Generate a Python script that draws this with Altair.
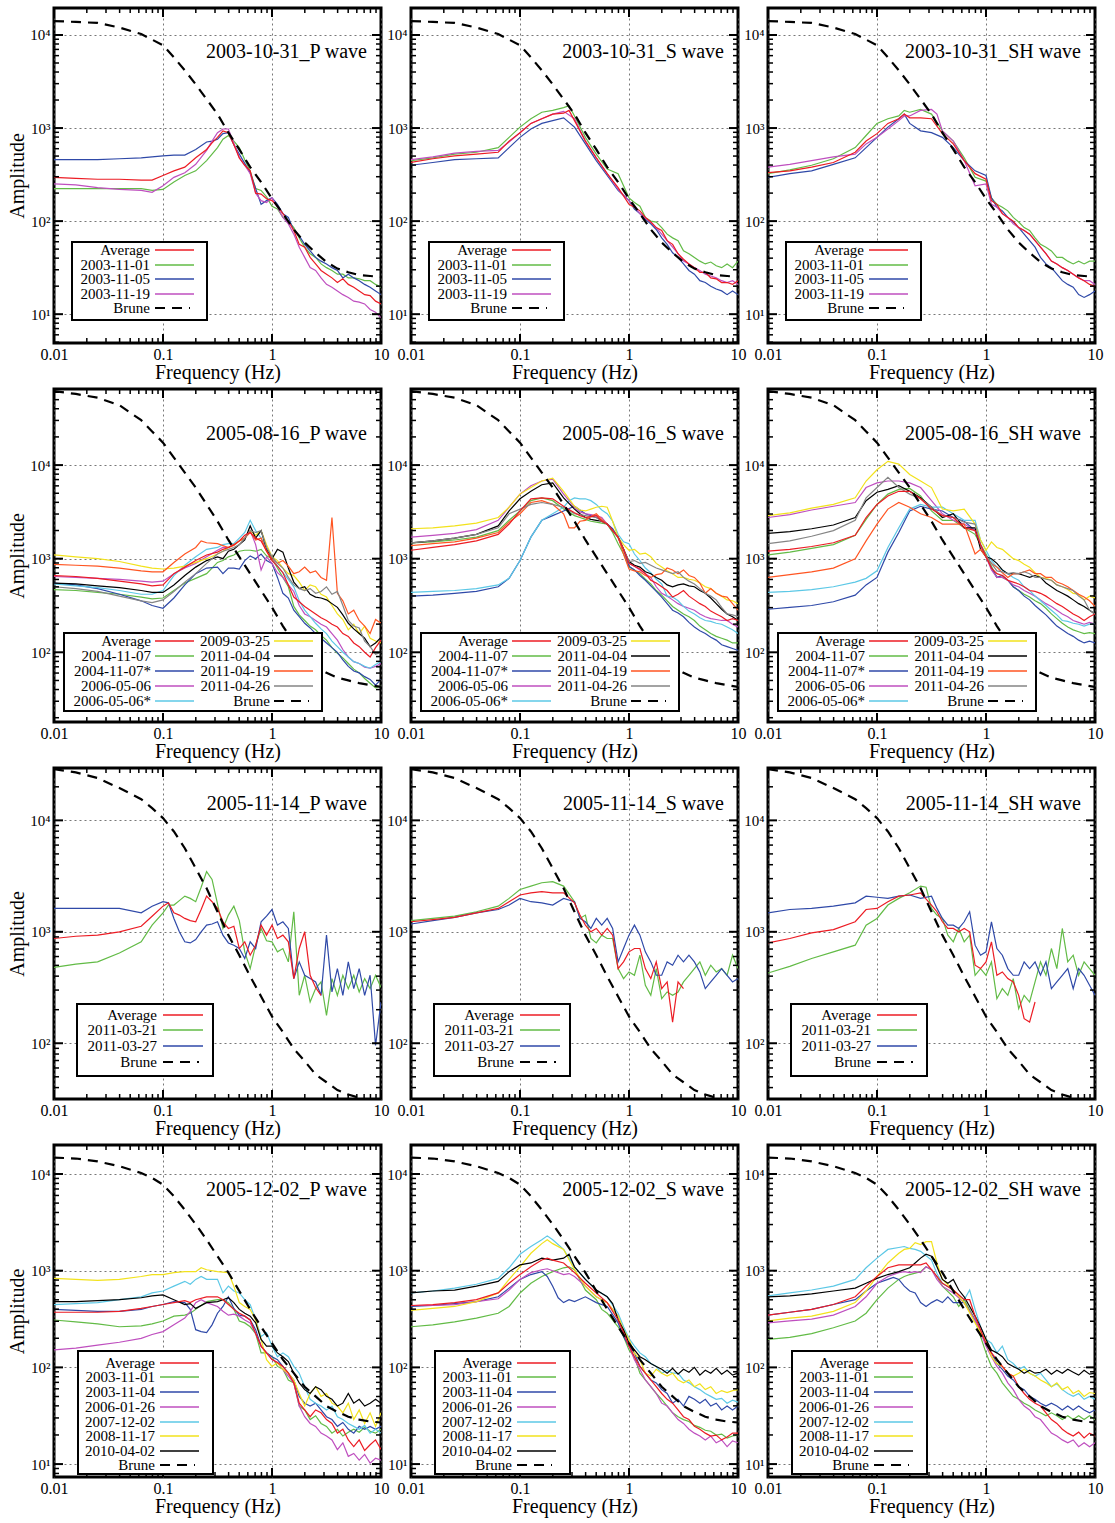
import altair as alt
import pandas as pd

_ = None
FONT = "Liberation Serif"

# log10 of frequency (Hz) at which the spectra were read
LOGF = [-2.0, -1.8, -1.6, -1.4, -1.2, -1.1,
        -1.0, -0.95, -0.9, -0.85, -0.8, -0.75, -0.7, -0.65, -0.6, -0.55,
        -0.5, -0.45, -0.4, -0.35, -0.3, -0.25, -0.2, -0.15, -0.1, -0.05,
        0.0, 0.05, 0.1, 0.15, 0.2, 0.25, 0.3, 0.35, 0.4, 0.45,
        0.5, 0.55, 0.6, 0.65, 0.7, 0.75, 0.8, 0.85, 0.9, 0.95, 1.0]

# ---------------- values: log10 amplitude ----------------
# Event 2003-10-31
brune1 = [4.15, 4.14, 4.13, 4.08, 4.01, 3.95] + [3.89, _, 3.76, _, 3.62, _, 3.47, _, 3.31, _,
          3.15, _, 2.95, _, 2.77, _, 2.58, _, 2.42, _] + [2.24, _, 2.08, _, 1.91, _, 1.77, _, 1.66, _,
          1.56, _, 1.49, _, 1.45, _, 1.42, _, 1.41, _, 1.40]
p1_avg = [2.47, 2.46, 2.45, 2.45, 2.44, 2.44] + [2.49, _, 2.54, _, 2.58, _, 2.68, _, 2.77, 2.84,
          2.90, 2.97, 2.95, 2.82, 2.68, 2.60, 2.54, 2.30, 2.29, 2.24] + [2.22, 2.16, 2.08, 2.00, 1.90, 1.75, 1.72, 1.61, 1.54, 1.47,
          1.43, 1.39, 1.34, 1.38, 1.32, 1.29, 1.25, 1.21, 1.20, 1.14, 1.11]
p1_g = [2.35, 2.35, 2.35, 2.35, 2.35, 2.33] + [2.34, _, 2.42, _, 2.49, _, 2.54, _, 2.65, 2.72,
        2.79, 2.88, 2.92, 2.86, 2.79, 2.66, 2.54, 2.35, 2.33, 2.26] + [2.16, 2.13, 2.04, 2.00, 1.93, 1.82, 1.72, 1.65, 1.61, 1.54,
        1.50, 1.47, 1.43, 1.43, 1.39, 1.39, 1.38, 1.36, 1.36, 1.32, 1.29]
p1_b = [2.66, 2.66, 2.66, 2.67, 2.68, 2.69] + [2.70, _, 2.71, _, 2.71, _, 2.77, _, 2.85, 2.86,
        2.88, 2.94, 2.95, 2.82, 2.72, 2.62, 2.52, 2.35, 2.18, 2.22] + [2.25, 2.18, 2.08, 2.04, 1.90, 1.84, 1.75, 1.68, 1.61, 1.57,
        1.54, 1.50, 1.47, 1.39, 1.43, 1.39, 1.36, 1.32, 1.29, 1.25, 1.21]
p1_m = [2.40, 2.39, 2.36, 2.34, 2.33, 2.31] + [2.38, _, 2.47, _, 2.52, _, 2.61, _, 2.76, 2.86,
        2.95, 2.99, 2.99, 2.84, 2.68, 2.60, 2.51, 2.30, 2.22, 2.20] + [2.25, 2.15, 2.04, 1.97, 1.86, 1.72, 1.61, 1.50, 1.47, 1.39,
        1.32, 1.29, 1.25, 1.21, 1.18, 1.14, 1.13, 1.11, 1.05, 1.02, 0.96]

p2_avg = [2.63, 2.67, 2.70, 2.72, 2.74, 2.86] + [2.95, _, 3.05, _, 3.10, _, 3.15, _, 3.16, 3.19,
          3.08, _, 2.86, _, 2.68, _, 2.51, _, 2.36, _] + [2.18, 2.15, 2.11, 2.04, 1.99, 1.93, 1.90, 1.79, 1.75, 1.65,
          1.59, 1.54, 1.50, 1.45, 1.45, 1.39, 1.38, 1.34, 1.34, 1.32, 1.36]
p2_g = [2.65, 2.68, 2.72, 2.74, 2.79, 2.90] + [3.01, _, 3.10, _, 3.17, _, 3.19, _, 3.22, 3.24,
        3.13, _, 2.90, _, 2.72, _, 2.56, _, 2.51, _] + [2.25, 2.20, 2.16, 2.04, 2.00, 1.99, 1.93, 1.86, 1.82, 1.79,
        1.68, 1.65, 1.61, 1.57, 1.54, 1.56, 1.52, 1.50, 1.54, 1.50, 1.57]
p2_b = [2.60, 2.63, 2.66, 2.67, 2.68, 2.79] + [2.90, _, 2.99, _, 3.05, _, 3.08, _, 3.11, _,
        3.01, _, 2.83, _, 2.65, _, 2.49, _, 2.33, _] + [2.22, 2.13, 2.08, 2.02, 1.97, 1.91, 1.82, 1.75, 1.66, 1.61,
        1.54, 1.47, 1.43, 1.36, 1.34, 1.30, 1.27, 1.25, 1.21, 1.25, 1.21]
p2_m = [2.66, 2.69, 2.73, 2.75, 2.76, 2.85] + [2.95, _, 3.05, _, 3.10, _, 3.15, _, 3.18, _,
        3.10, _, 2.86, _, 2.68, _, 2.51, _, 2.34, _] + [2.22, 2.15, 2.08, 2.03, 1.99, 1.93, 1.86, 1.79, 1.72, 1.65,
        1.57, 1.54, 1.50, 1.47, 1.43, 1.41, 1.39, 1.36, 1.34, 1.36, 1.32]

p3_avg = [2.52, 2.54, 2.58, 2.63, 2.74, 2.86] + [2.94, _, 3.05, _, 3.10, 3.15, 3.11, _, 3.11, _,
          3.10, _, 2.94, _, 2.83, _, 2.65, _, 2.51, _] + [2.45, 2.22, 2.18, 2.08, 2.04, 2.00, 1.93, 1.90, 1.86, 1.79,
          1.72, 1.65, 1.57, 1.54, 1.50, 1.47, 1.43, 1.39, 1.36, 1.32, 1.30]
p3_g = [2.51, 2.55, 2.60, 2.67, 2.79, 2.92] + [3.05, _, 3.10, _, 3.13, 3.19, 3.17, _, 3.20, _,
        3.15, _, 2.97, _, 2.86, _, 2.68, _, 2.47, _] + [2.43, 2.25, 2.18, 2.15, 2.11, 2.04, 1.99, 1.93, 1.90, 1.82,
        1.75, 1.72, 1.68, 1.61, 1.61, 1.57, 1.54, 1.57, 1.54, 1.57, 1.57]
p3_b = [2.47, 2.51, 2.54, 2.61, 2.68, 2.79] + [2.90, _, 3.01, _, 3.10, 3.15, 3.05, _, 2.97, _,
        2.95, _, 2.90, _, 2.79, _, 2.65, _, 2.54, _] + [2.49, 2.25, 2.15, 2.11, 2.04, 1.99, 1.93, 1.86, 1.79, 1.72,
        1.61, 1.54, 1.50, 1.43, 1.36, 1.32, 1.29, 1.21, 1.18, 1.21, 1.25]
p3_m = [2.58, 2.61, 2.65, 2.69, 2.72, 2.83] + [2.90, _, 2.99, _, 3.08, 3.13, 3.13, _, 3.19, _,
        3.20, 3.15, 2.97, _, 2.86, _, 2.65, _, 2.38, _] + [2.40, 2.18, 2.15, 2.08, 2.04, 1.97, 1.93, 1.90, 1.86, 1.79,
        1.72, 1.65, 1.57, 1.54, 1.50, 1.47, 1.43, 1.39, 1.36, 1.36, 1.32]

# Event 2005-08-16
brune2 = [4.79, 4.76, 4.72, 4.64, 4.48, 4.36] + [4.24, _, 4.08, _, 3.92, _, 3.76, _, 3.58, _,
          3.40, _, 3.20, _, 3.02, _, 2.84, _, 2.66, _] + [2.48, _, 2.28, _, 2.10, _, 1.95, _, 1.85, _,
          1.78, _, 1.73, _, 1.70, _, 1.67, _, 1.65, _, 1.63]
p4_avg = [2.82, 2.81, 2.79, 2.76, 2.73, 2.71] + [2.72, _, 2.84, _, 2.91, _, 2.98, _, 3.04, _,
          3.07, 3.10, 3.12, 3.15, 3.19, 3.25, 3.28, 3.22, 3.19, 3.08] + [2.98, 2.92, 2.85, 2.72, 2.59, 2.54, 2.49, 2.45, 2.41, 2.37,
          2.34, 2.30, 2.27, 2.20, 2.17, 2.10, 2.06, 2.00, 1.95, 2.05, 2.13]
p4_g = [2.67, 2.66, 2.64, 2.62, 2.59, 2.57] + [2.58, _, 2.66, _, 2.74, _, 2.79, _, 2.84, _,
        2.96, 2.98, 3.02, 3.04, 3.08, 3.09, 3.09, 3.08, 3.10, 3.03] + [3.00, 2.90, 2.80, 2.70, 2.49, 2.40, 2.34, 2.28, 2.24, 2.18,
        2.13, 2.05, 1.99, 1.94, 1.88, 1.82, 1.78, 1.72, 1.67, 1.62, 1.64]
p4_b = [2.74, 2.72, 2.68, 2.62, 2.55, 2.50] + [2.47, _, 2.58, _, 2.72, _, 2.84, _, 2.90, _,
        2.91, 2.84, 2.90, 2.90, 2.89, 2.98, 3.03, 3.00, 3.05, 2.98] + [2.95, 2.80, 2.63, 2.58, 2.45, 2.38, 2.31, 2.26, 2.20, 2.15,
        2.10, 2.05, 2.00, 1.92, 1.85, 1.80, 1.78, 1.74, 1.71, 1.65, 1.71]
p4_m = [2.81, 2.80, 2.79, 2.78, 2.76, 2.75] + [2.76, _, 2.84, _, 2.90, _, 2.95, _, 3.02, _,
        3.09, 3.12, 3.12, 3.15, 3.19, 3.22, 3.30, 3.15, 2.88, 3.02] + [2.95, 2.85, 2.80, 2.72, 2.65, 2.50, 2.41, 2.38, 2.34, 2.30,
        2.27, 2.20, 2.13, 2.03, 1.95, 1.90, 1.88, 1.84, 1.83, 1.85, 1.88]
p4_c = [2.73, 2.71, 2.69, 2.66, 2.62, 2.62] + [2.66, _, 2.82, _, 2.93, _, 3.02, _, 3.10, _,
        3.12, 3.15, 3.16, 3.16, 3.22, 3.28, 3.41, 3.30, 3.22, 3.12] + [3.00, 2.92, 2.85, 2.78, 2.70, 2.55, 2.45, 2.38, 2.31, 2.25,
        2.20, 2.12, 2.06, 2.00, 1.95, 1.90, 1.88, 1.85, 1.83, 1.87, 1.90]
p4_y = [3.04, 3.02, 3.00, 2.97, 2.92, 2.90] + [2.89, _, 2.90, _, 2.92, _, 2.96, _, 3.00, _,
        3.05, 3.08, 3.12, 3.15, 3.19, 3.22, 3.30, 3.25, 3.30, 3.15] + [3.02, 2.98, 2.90, 2.84, 2.82, 2.75, 2.66, 2.72, 2.70, 2.62,
        2.59, 2.50, 2.41, 2.35, 2.24, 2.30, 2.20, 2.28, 2.15, 2.12, 2.10]
p4_k = [2.74, 2.73, 2.71, 2.69, 2.66, 2.64] + [2.64, _, 2.72, _, 2.82, _, 2.91, _, 2.98, _,
        3.02, 3.00, 3.08, 3.10, 3.15, 3.20, 3.35, 3.22, 3.30, 3.10] + [3.00, 3.10, 3.07, 2.90, 2.75, 2.68, 2.70, 2.62, 2.59, 2.58,
        2.56, 2.52, 2.48, 2.40, 2.31, 2.25, 2.20, 2.15, 2.06, 2.10, 2.16]
p4_o = [2.94, 2.93, 2.92, 2.90, 2.87, 2.86] + [2.86, _, 2.96, _, 3.05, _, 3.12, 3.19, 3.17, _,
        3.16, 3.14, 3.12, 3.14, 3.19, 3.22, 3.28, 3.20, 3.22, 3.08] + [3.00, 2.95, 2.98, 2.92, 2.84, 2.86, 2.91, 2.85, 2.87, 2.80,
        2.77, 3.44, 2.63, 2.55, 2.41, 2.45, 2.34, 2.28, 2.20, 2.35, 2.31]
p4_gr = [2.70, 2.68, 2.65, 2.60, 2.55, 2.53] + [2.56, _, 2.65, _, 2.75, _, 2.84, _, 2.95, _,
         3.05, 3.08, 3.10, 3.12, 3.15, 3.22, 3.30, 3.28, 3.30, 3.12] + [3.02, 2.95, 2.90, 2.80, 2.72, 2.68, 2.66, 2.68, 2.63, 2.65,
         2.70, 2.62, 2.65, 2.50, 2.34, 2.28, 2.26, 2.12, 2.06, 1.98, 2.00]

p5_avg = [3.09, 3.12, 3.15, 3.19, 3.26, 3.37] + [3.51, _, 3.64, _, 3.65, _, 3.64, _, 3.56, _,
          3.49, 3.46, 3.44, 3.45, 3.46, 3.40, 3.37, 3.30, 3.23, 3.10] + [2.95, 2.92, 2.89, 2.84, 2.77, 2.74, 2.70, 2.66, 2.59, 2.62,
          2.66, 2.60, 2.56, 2.52, 2.49, 2.44, 2.41, 2.38, 2.34, 2.36, 2.34]
p5_g = [3.17, 3.18, 3.20, 3.23, 3.30, 3.41] + [3.51, _, 3.62, _, 3.65, _, 3.62, _, 3.53, _,
        3.46, 3.44, 3.42, 3.40, 3.39, 3.38, 3.37, 3.28, 3.16, 3.05] + [2.91, 2.88, 2.84, 2.78, 2.73, 2.66, 2.61, 2.55, 2.49, 2.45,
        2.41, 2.38, 2.34, 2.28, 2.24, 2.20, 2.17, 2.15, 2.13, 2.10, 2.10]
p5_b = [2.60, 2.61, 2.63, 2.65, 2.70, 2.79] + [2.98, _, 3.23, _, 3.41, _, 3.46, _, 3.51, _,
        3.56, 3.52, 3.48, 3.46, 3.44, 3.41, 3.37, 3.32, 3.23, 3.10] + [2.92, 2.88, 2.82, 2.77, 2.71, 2.65, 2.59, 2.52, 2.45, 2.42,
        2.38, 2.32, 2.27, 2.23, 2.20, 2.16, 2.13, 2.08, 2.06, 2.04, 2.02]
p5_m = [3.23, 3.25, 3.27, 3.31, 3.41, 3.55] + [3.69, _, 3.78, _, 3.83, _, 3.85, _, 3.69, _,
        3.55, 3.50, 3.48, 3.47, 3.46, 3.44, 3.37, 3.30, 3.23, 3.10] + [2.95, 2.92, 2.88, 2.84, 2.80, 2.70, 2.63, 2.60, 2.56, 2.52,
        2.49, 2.47, 2.45, 2.41, 2.38, 2.36, 2.35, 2.34, 2.34, 2.30, 2.27]
p5_c = [2.64, 2.65, 2.66, 2.68, 2.72, 2.79] + [2.98, _, 3.23, _, 3.41, _, 3.48, _, 3.55, 3.62,
        3.65, 3.64, 3.64, 3.62, 3.58, 3.52, 3.48, 3.40, 3.26, 3.18] + [3.16, 3.05, 2.98, 2.90, 2.85, 2.78, 2.73, 2.60, 2.59, 2.55,
        2.49, 2.44, 2.41, 2.37, 2.34, 2.33, 2.31, 2.30, 2.27, 2.24, 2.20]
p5_y = [3.32, 3.33, 3.35, 3.38, 3.44, 3.55] + [3.69, _, 3.76, _, 3.83, _, 3.86, _, 3.72, _,
        3.56, 3.52, 3.51, 3.53, 3.55, 3.56, 3.55, 3.40, 3.23, 3.15] + [3.09, 3.10, 3.05, 3.06, 3.02, 2.95, 2.91, 2.87, 2.84, 2.80,
        2.80, 2.78, 2.77, 2.74, 2.70, 2.68, 2.63, 2.60, 2.56, 2.55, 2.52]
p5_k = [3.17, 3.19, 3.22, 3.26, 3.35, 3.51] + [3.64, _, 3.72, _, 3.79, _, 3.81, _, 3.65, _,
        3.53, 3.48, 3.44, 3.42, 3.41, 3.40, 3.37, 3.30, 3.23, 3.10] + [2.97, 2.93, 2.91, 2.86, 2.84, 2.80, 2.77, 2.72, 2.70, 2.72,
        2.73, 2.71, 2.70, 2.66, 2.63, 2.58, 2.52, 2.46, 2.41, 2.38, 2.34]
p5_o = [3.14, 3.16, 3.18, 3.22, 3.28, 3.39] + [3.48, _, 3.60, _, 3.62, _, 3.58, _, 3.48, 3.33,
        3.33, 3.40, 3.41, 3.45, 3.48, 3.42, 3.37, 3.30, 3.23, 3.05] + [2.89, 2.87, 2.86, 2.82, 2.80, 2.83, 2.84, 2.90, 2.88, 2.84,
        2.88, 2.82, 2.80, 2.74, 2.63, 2.68, 2.63, 2.60, 2.59, 2.52, 2.45]
p5_gr = [3.17, 3.19, 3.22, 3.26, 3.33, 3.48] + [3.53, _, 3.58, _, 3.60, _, 3.58, _, 3.55, _,
         3.48, 3.47, 3.46, 3.45, 3.44, 3.40, 3.37, 3.30, 3.23, 3.10] + [2.97, 2.98, 2.95, 2.96, 2.93, 2.90, 2.88, 2.86, 2.84, 2.86,
         2.80, 2.76, 2.73, 2.68, 2.63, 2.60, 2.56, 2.48, 2.41, 2.40, 2.38]

p6_avg = [3.08, 3.10, 3.13, 3.17, 3.25, 3.44] + [3.58, _, 3.67, _, 3.72, _, 3.72, _, 3.64, _,
          3.53, _, 3.46, _, 3.44, _, 3.33, _, 3.30, 3.15] + [3.02, 2.90, 2.84, 2.82, 2.77, 2.75, 2.73, 2.70, 2.66, 2.65,
          2.63, 2.60, 2.56, 2.52, 2.49, 2.45, 2.41, 2.38, 2.34, 2.38, 2.41]
p6_g = [3.04, 3.07, 3.11, 3.15, 3.25, 3.42] + [3.58, _, 3.69, _, 3.74, _, 3.75, _, 3.67, _,
        3.51, _, 3.41, _, 3.41, _, 3.33, _, 3.26, 3.15] + [3.05, 2.92, 2.80, 2.80, 2.77, 2.70, 2.66, 2.62, 2.59, 2.55,
        2.52, 2.47, 2.41, 2.36, 2.31, 2.27, 2.24, 2.22, 2.20, 2.21, 2.20]
p6_b = [2.46, 2.48, 2.50, 2.54, 2.61, 2.72] + [2.80, _, 3.07, _, 3.28, _, 3.51, _, 3.56, _,
        3.53, _, 3.51, _, 3.44, _, 3.40, _, 3.30, 3.15] + [3.02, 2.90, 2.80, 2.82, 2.77, 2.70, 2.66, 2.60, 2.56, 2.50,
        2.45, 2.40, 2.34, 2.28, 2.24, 2.20, 2.17, 2.13, 2.10, 2.12, 2.10]
p6_m = [3.44, 3.47, 3.52, 3.56, 3.60, 3.76] + [3.81, _, 3.83, _, 3.83, _, 3.81, _, 3.76, _,
        3.62, _, 3.48, _, 3.41, _, 3.37, _, 3.30, 3.15] + [3.02, 2.88, 2.80, 2.80, 2.77, 2.72, 2.70, 2.66, 2.63, 2.60,
        2.56, 2.52, 2.49, 2.45, 2.41, 2.38, 2.34, 2.32, 2.30, 2.32, 2.30]
p6_c = [2.64, 2.65, 2.67, 2.70, 2.75, 2.79] + [2.87, _, 3.12, _, 3.33, _, 3.53, _, 3.58, _,
        3.55, _, 3.55, _, 3.48, _, 3.41, _, 3.41, 3.20] + [3.09, 2.98, 2.91, 2.88, 2.84, 2.80, 2.77, 2.70, 2.66, 2.60,
        2.55, 2.50, 2.45, 2.40, 2.34, 2.33, 2.31, 2.30, 2.28, 2.30, 2.30]
p6_y = [3.46, 3.49, 3.54, 3.58, 3.65, 3.83] + [3.95, _, 4.04, _, 4.01, _, 3.90, _, 3.83, _,
        3.76, _, 3.53, _, 3.51, _, 3.53, _, 3.37, 3.20] + [3.09, 3.18, 3.12, 3.10, 3.05, 3.00, 2.98, 2.94, 2.91, 2.85,
        2.80, 2.79, 2.77, 2.72, 2.70, 2.67, 2.63, 2.62, 2.56, 2.60, 2.58]
p6_k = [3.27, 3.29, 3.32, 3.36, 3.44, 3.62] + [3.71, _, 3.74, _, 3.78, _, 3.72, _, 3.65, _,
        3.55, _, 3.44, _, 3.48, _, 3.33, _, 3.33, 3.10] + [3.02, 3.00, 2.95, 2.88, 2.84, 2.84, 2.84, 2.82, 2.80, 2.82,
        2.80, 2.74, 2.70, 2.66, 2.63, 2.60, 2.56, 2.52, 2.49, 2.45, 2.41]
p6_o = [2.80, 2.83, 2.86, 2.90, 3.00, 3.19] + [3.37, _, 3.53, _, 3.60, _, 3.55, _, 3.48, _,
        3.44, _, 3.37, _, 3.37, _, 3.37, _, 3.05, 3.10] + [3.02, 2.95, 2.91, 2.85, 2.80, 2.84, 2.84, 2.86, 2.88, 2.84,
        2.84, 2.80, 2.80, 2.75, 2.73, 2.70, 2.66, 2.62, 2.59, 2.55, 2.49]
p6_gr = [3.16, 3.19, 3.24, 3.30, 3.41, 3.65] + [3.76, _, 3.87, _, 3.76, _, 3.69, _, 3.64, _,
         3.55, _, 3.46, _, 3.44, _, 3.39, _, 3.37, 3.15] + [3.03, 2.95, 2.87, 2.86, 2.84, 2.85, 2.84, 2.86, 2.84, 2.80,
         2.80, 2.78, 2.77, 2.72, 2.70, 2.68, 2.66, 2.60, 2.56, 2.45, 2.41]

# Event 2005-11-14
brune3 = [4.46, 4.43, 4.38, 4.29, 4.19, 4.11] + [4.02, _, 3.90, _, 3.75, _, 3.57, _, 3.39, _,
          3.18, _, 2.97, _, 2.79, _, 2.60, _, 2.42, _] + [2.24, _, 2.10, _, 1.95, _, 1.84, _, 1.72, _,
          1.65, _, 1.58, _, 1.54, _, 1.51, _, 1.49, _, 1.48]
p7_avg = [2.94, 2.96, 2.97, 3.00, 3.05, 3.14] + [3.23, 3.26, 3.17, 3.15, 3.12, 3.10, 3.09, 3.20, 3.32, 3.27,
          3.21, 3.09, 3.03, 3.05, 2.85, 2.91, 2.79, 2.88, 3.06, 2.97] + [3.06, 2.94, 2.97, 2.91, 2.58, 2.85, 3.00, 2.61, 2.50, 2.43,
          _, _, _, _, _, _, _, _, _, _, _]
p7_g = [2.68, 2.71, 2.73, 2.81, 2.91, 3.06] + [3.17, 3.24, 3.24, 3.28, 3.32, 3.30, 3.27, 3.40, 3.54, 3.47,
        3.25, 3.03, 3.15, 3.23, 3.10, 2.82, 2.67, 2.88, 3.03, 2.92] + [2.91, 2.82, 2.85, 2.73, 3.18, 2.43, 2.61, 2.37, 2.49, 2.55,
        2.25, 2.58, 2.43, 2.61, 2.49, 2.61, 2.46, 2.58, 2.49, 2.61, 2.50]
p7_b = [3.21, 3.21, 3.21, 3.21, 3.17, 3.23] + [3.27, 3.26, 3.12, 3.00, 2.91, 2.90, 2.93, 3.00, 3.06, 3.07,
        3.09, 2.97, 2.90, 2.88, 2.85, 2.76, 2.91, 2.85, 3.09, 3.14] + [3.20, 3.06, 3.09, 3.03, 2.58, 2.73, 2.61, 2.58, 2.55, 2.43,
        2.97, 2.46, 2.67, 2.43, 2.73, 2.49, 2.67, 2.43, 2.61, 1.98, 2.37]

p8_avg = [3.09, 3.11, 3.13, 3.17, 3.21, 3.27] + [3.33, _, 3.35, _, 3.36, _, 3.35, _, 3.35, _,
          3.26, 3.15, 3.06, 3.00, 3.03, 2.97, 3.03, 2.97, 2.67, 2.73] + [2.82, 2.85, 2.85, 2.67, 2.58, 2.73, 2.49, 2.55, 2.19, 2.55,
          2.49, _, _, _, _, _, _, _, _, _, _]
p8_g = [3.10, 3.12, 3.14, 3.18, 3.23, 3.30] + [3.38, _, 3.41, _, 3.44, _, 3.45, _, 3.41, _,
        3.27, 3.12, 3.15, 2.94, 2.90, 2.97, 2.94, 2.94, 2.67, 2.58] + [2.64, 2.61, 2.79, 2.52, 2.43, 2.67, 2.40, 2.46, 2.43, 2.46,
        2.55, 2.61, 2.67, 2.73, 2.61, 2.70, 2.64, 2.67, 2.61, 2.79, 2.67]
p8_b = [3.07, 3.10, 3.13, 3.17, 3.20, 3.24] + [3.30, _, 3.27, _, 3.26, _, 3.24, _, 3.30, _,
        3.27, 3.12, 3.09, 3.03, 3.12, 3.06, 3.12, 3.03, 2.73, 2.85] + [2.97, 3.06, 2.97, 2.82, 2.73, 2.61, 2.61, 2.73, 2.70, 2.79,
        2.73, 2.79, 2.73, 2.64, 2.49, 2.55, 2.61, 2.67, 2.61, 2.55, 2.58]

p9_avg = [2.90, 2.94, 2.99, 3.02, 3.09, 3.20] + [3.21, _, 3.27, _, 3.32, _, 3.33, _, 3.35, _,
          3.24, 3.18, 3.09, 3.03, 3.03, 3.00, 3.03, 3.00, 2.70, 2.67] + [2.73, 2.91, 2.61, 2.64, 2.58, 2.55, 2.43, 2.22, 2.19, 2.37,
          _, _, _, _, _, _, _, _, _, _, _]
p9_g = [2.63, 2.69, 2.76, 2.82, 2.88, 3.06] + [3.12, _, 3.24, _, 3.30, _, 3.35, _, 3.41, 3.40,
        3.21, 3.15, 3.12, 2.97, 2.91, 3.03, 2.91, 2.97, 2.61, 2.67] + [2.61, 2.73, 2.40, 2.49, 2.43, 2.58, 2.31, 2.43, 2.37, 2.55,
        2.73, 2.61, 2.85, 2.67, 3.03, 2.73, 2.79, 2.61, 2.73, 2.67, 2.61]
p9_b = [3.17, 3.20, 3.21, 3.23, 3.26, 3.32] + [3.31, _, 3.30, _, 3.32, _, 3.33, _, 3.30, _,
        3.32, 3.21, 3.12, 3.06, 3.06, 3.03, 3.09, 3.18, 2.88, 2.79] + [2.82, 3.09, 2.85, 2.79, 2.67, 2.61, 2.61, 2.73, 2.67, 2.73,
        2.61, 2.73, 2.49, 2.55, 2.61, 2.67, 2.49, 2.67, 2.61, 2.52, 2.43]

# Event 2005-12-02
brune4 = [4.17, 4.16, 4.13, 4.08, 4.01, 3.96] + [3.89, _, 3.77, _, 3.63, _, 3.48, _, 3.32, _,
          3.15, _, 2.98, _, 2.79, _, 2.60, _, 2.42, _] + [2.25, _, 2.08, _, 1.94, _, 1.80, _, 1.70, _,
          1.60, _, 1.54, _, 1.49, _, 1.46, _, 1.44, _, 1.43]
p10_avg = [2.57, 2.57, 2.57, 2.58, 2.61, 2.63] + [2.65, _, 2.67, _, 2.69, 2.67, 2.70, _, 2.73, _,
           2.73, 2.70, 2.65, 2.60, 2.56, 2.53, 2.49, 2.35, 2.22, 2.15] + [2.08, 2.05, 2.01, 1.94, 1.84, 1.63, 1.56, 1.49, 1.56, 1.53,
           1.46, 1.42, 1.32, 1.36, 1.25, 1.18, 1.25, 1.14, 1.20, 1.25, 1.15]
p10_g = [2.49, 2.47, 2.45, 2.42, 2.43, 2.45] + [2.48, _, 2.53, _, 2.54, 2.56, 2.60, _, 2.68, _,
         2.70, 2.70, 2.67, 2.60, 2.48, 2.46, 2.42, 2.35, 2.15, 2.15] + [2.11, 2.01, 1.98, 1.87, 1.84, 1.60, 1.56, 1.46, 1.50, 1.42,
         1.39, 1.32, 1.36, 1.29, 1.33, 1.36, 1.33, 1.38, 1.34, 1.32, 1.36]
p10_b = [2.60, 2.59, 2.58, 2.58, 2.60, 2.63] + [2.65, _, 2.68, _, 2.67, 2.60, 2.39, 2.37, 2.36, 2.44,
         2.56, 2.63, 2.73, 2.61, 2.54, 2.53, 2.49, 2.39, 2.22, 2.15] + [2.11, 2.08, 2.01, 1.94, 1.87, 1.70, 1.63, 1.60, 1.63, 1.56,
         1.49, 1.46, 1.39, 1.43, 1.36, 1.32, 1.39, 1.36, 1.39, 1.36, 1.39]
p10_m = [2.18, 2.20, 2.23, 2.26, 2.30, 2.34] + [2.37, _, 2.44, _, 2.51, 2.58, 2.67, 2.70, 2.67, _,
         2.63, 2.58, 2.54, 2.55, 2.53, 2.49, 2.46, 2.35, 2.22, 2.15] + [2.08, 2.05, 1.98, 1.91, 1.84, 1.60, 1.49, 1.42, 1.39, 1.32,
         1.29, 1.25, 1.15, 1.22, 1.08, 1.11, 1.04, 1.10, 1.01, 1.06, 1.04]
p10_c = [2.65, 2.66, 2.67, 2.70, 2.73, 2.77] + [2.79, _, 2.84, _, 2.89, 2.86, 2.91, 2.94, 2.91, _,
         2.91, 2.77, 2.84, 2.79, 2.77, 2.70, 2.65, 2.49, 2.32, 2.36] + [2.22, 2.11, 2.15, 2.11, 2.01, 1.94, 1.80, 1.67, 1.63, 1.60,
         1.56, 1.60, 1.49, 1.46, 1.42, 1.39, 1.36, 1.40, 1.32, 1.36, 1.32]
p10_y = [2.92, 2.91, 2.90, 2.91, 2.94, 2.96] + [2.96, _, 2.98, _, 2.99, _, 2.99, 3.03, 3.01, _,
         2.99, _, 2.98, 2.84, 2.67, 2.63, 2.60, 2.49, 2.29, 2.08] + [2.01, 2.05, 1.98, 1.94, 1.87, 1.73, 1.60, 1.73, 1.80, 1.70,
         1.73, 1.63, 1.60, 1.53, 1.63, 1.46, 1.56, 1.42, 1.53, 1.39, 1.53]
p10_k = [2.68, 2.68, 2.69, 2.70, 2.72, 2.74] + [2.75, _, 2.70, _, 2.65, 2.66, 2.61, _, 2.67, _,
         2.68, 2.70, 2.72, 2.67, 2.60, 2.56, 2.53, 2.46, 2.29, 2.22] + [2.22, 2.15, 2.11, 2.06, 1.94, 1.84, 1.77, 1.73, 1.80, 1.77,
         1.70, 1.67, 1.60, 1.63, 1.73, 1.63, 1.67, 1.60, 1.63, 1.67, 1.63]

p11_avg = [2.64, 2.65, 2.67, 2.70, 2.77, 2.87] + [2.96, _, 3.04, _, 3.11, 3.13, 3.11, _, 3.08, _,
           2.98, _, 2.87, _, 2.77, _, 2.67, _, 2.49, 2.36] + [2.22, 2.11, 2.01, 1.94, 1.87, 1.80, 1.73, 1.67, 1.63, 1.56,
           1.49, 1.46, 1.39, 1.36, 1.32, 1.29, 1.30, 1.25, 1.28, 1.32, 1.32]
p11_g = [2.42, 2.44, 2.47, 2.51, 2.56, 2.63] + [2.77, _, 2.87, _, 2.94, _, 2.99, _, 3.03, 3.04,
         3.01, _, 2.80, _, 2.70, 2.60, 2.56, _, 2.42, 2.32] + [2.18, 2.11, 1.94, 1.87, 1.80, 1.73, 1.67, 1.60, 1.53, 1.49,
         1.46, 1.44, 1.40, 1.38, 1.35, 1.34, 1.30, 1.31, 1.27, 1.29, 1.30]
p11_b = [2.63, 2.64, 2.66, 2.68, 2.73, 2.82] + [2.91, _, 2.96, _, 2.99, 2.94, 2.84, 2.72, 2.67, 2.70,
         2.68, _, 2.73, _, 2.67, _, 2.63, _, 2.46, 2.32] + [2.22, 2.15, 2.01, 1.94, 1.87, 1.84, 1.77, 1.73, 1.63, 1.67,
         1.60, 1.70, 1.67, 1.63, 1.67, 1.60, 1.63, 1.56, 1.60, 1.56, 1.60]
p11_m = [2.64, 2.64, 2.65, 2.68, 2.71, 2.80] + [2.91, _, 2.98, _, 3.01, 3.02, 3.00, _, 2.96, 2.97,
         2.94, _, 2.84, _, 2.73, _, 2.67, _, 2.53, 2.36] + [2.22, 2.08, 1.98, 1.87, 1.80, 1.73, 1.63, 1.60, 1.53, 1.46,
         1.42, 1.36, 1.32, 1.29, 1.25, 1.29, 1.22, 1.25, 1.18, 1.24, 1.22]
p11_c = [2.77, 2.79, 2.82, 2.86, 2.92, 3.03] + [3.17, _, 3.25, _, 3.32, 3.36, 3.32, _, 3.22, _,
         3.04, _, 2.91, _, 2.80, _, 2.73, _, 2.56, 2.42] + [2.30, 2.22, 2.15, 2.11, 2.04, 2.01, 1.94, 1.97, 1.94, 1.94,
         1.87, 1.84, 1.80, 1.77, 1.73, 1.70, 1.67, 1.68, 1.63, 1.66, 1.64]
p11_y = [2.59, 2.61, 2.63, 2.68, 2.77, 2.91] + [3.04, _, 3.18, _, 3.28, 3.32, 3.28, _, 3.22, _,
         3.01, _, 2.84, _, 2.73, _, 2.67, _, 2.53, 2.39] + [2.29, 2.15, 2.08, 1.94, 1.91, 1.98, 1.94, 1.91, 1.94, 1.87,
         1.84, 1.87, 1.80, 1.83, 1.77, 1.80, 1.73, 1.76, 1.74, 1.76, 1.77]
p11_k = [2.77, 2.79, 2.80, 2.84, 2.89, 2.99] + [3.06, _, 3.08, _, 3.13, _, 3.11, _, 3.13, 3.17,
         3.04, _, 2.91, _, 2.80, _, 2.73, 2.66, 2.49, 2.39] + [2.25, 2.18, 2.11, 2.08, 2.04, 2.01, 1.98, 1.94, 1.99, 1.93,
         1.98, 1.95, 2.00, 1.92, 1.97, 1.94, 1.99, 1.93, 1.97, 1.92, 1.94]

p12_avg = [2.54, 2.57, 2.60, 2.65, 2.73, 2.84] + [2.94, _, 3.03, _, 3.06, _, 3.06, _, 3.06, 3.08,
           3.01, 2.94, 2.87, _, 2.80, _, 2.70, 2.70, 2.53, 2.39] + [2.25, 2.15, 2.08, 2.01, 1.94, 1.91, 1.80, 1.73, 1.67, 1.63,
           1.60, 1.53, 1.46, 1.42, 1.36, 1.32, 1.29, 1.33, 1.27, 1.32, 1.29]
p12_g = [2.29, 2.31, 2.35, 2.41, 2.48, 2.56] + [2.70, _, 2.82, _, 2.91, 2.94, 2.96, _, 2.99, 3.04,
         3.01, 2.94, 2.84, _, 2.73, 2.63, 2.70, _, 2.49, 2.32] + [2.15, 2.01, 1.94, 1.84, 1.77, 1.70, 1.67, 1.63, 1.60, 1.56,
         1.53, 1.50, 1.53, 1.50, 1.46, 1.50, 1.46, 1.50, 1.46, 1.50, 1.46]
p12_b = [2.54, 2.57, 2.60, 2.65, 2.70, 2.79] + [2.87, _, 2.91, 2.93, 2.91, 2.84, 2.79, 2.77, 2.67, 2.63,
         2.67, 2.70, 2.67, 2.73, 2.67, _, 2.67, _, 2.49, 2.36] + [2.25, 2.15, 2.04, 1.98, 1.91, 1.87, 1.80, 1.77, 1.70, 1.67,
         1.63, 1.60, 1.63, 1.60, 1.56, 1.60, 1.56, 1.60, 1.56, 1.53, 1.56]
p12_m = [2.46, 2.48, 2.50, 2.54, 2.63, 2.73] + [2.87, _, 2.94, _, 2.98, 2.99, 2.98, 2.99, 2.98, 3.04,
         3.01, 2.91, 2.84, _, 2.77, _, 2.67, _, 2.49, 2.36] + [2.22, 2.11, 2.01, 1.94, 1.84, 1.77, 1.67, 1.60, 1.56, 1.49,
         1.46, 1.39, 1.32, 1.29, 1.25, 1.22, 1.25, 1.18, 1.22, 1.18, 1.22]
p12_c = [2.74, 2.77, 2.80, 2.84, 2.91, 3.03] + [3.13, _, 3.22, _, 3.24, 3.25, 3.23, 3.22, 3.20, _,
         3.11, 2.97, 2.87, _, 2.80, _, 2.70, 2.80, 2.60, 2.42] + [2.29, 2.25, 2.15, 2.22, 2.08, 2.04, 1.98, 2.01, 1.94, 1.91,
         1.94, 1.87, 1.80, 1.83, 1.77, 1.73, 1.70, 1.73, 1.67, 1.70, 1.67]
p12_y = [2.48, 2.51, 2.53, 2.58, 2.67, 2.79] + [2.94, _, 3.08, _, 3.18, 3.22, 3.23, 3.29, 3.27, 3.30,
         3.30, 3.08, 2.91, _, 2.80, _, 2.67, _, 2.46, 2.36] + [2.29, 2.11, 2.04, 2.01, 1.94, 1.91, 1.94, 1.98, 1.94, 1.91,
         1.87, 1.84, 1.80, 1.84, 1.77, 1.80, 1.73, 1.76, 1.70, 1.74, 1.73]
p12_k = [2.73, 2.74, 2.76, 2.79, 2.82, 2.87] + [2.92, _, 2.96, _, 2.99, _, 3.03, 3.08, 3.13, 3.17,
         3.15, 3.04, 2.91, 2.87, 2.91, 2.80, 2.73, _, 2.53, 2.42] + [2.29, 2.18, 2.15, 2.11, 2.04, 2.01, 1.98, 1.94, 1.97, 1.94,
         1.95, 1.98, 1.93, 1.97, 1.94, 1.98, 1.95, 1.92, 1.97, 1.93, 1.94]

# ---------------- names, colours, titles ----------------
RED, GREEN, BLUE, MAGENTA = "#ec1c24", "#62bb46", "#2f49a8", "#bf4fbf"
CYAN, YELLOW, BLACK, ORANGE, GRAY = "#5cc8e6", "#f2e21c", "#000000", "#ff5522", "#858585"

NAMES_1 = ["Average", "2003-11-01", "2003-11-05", "2003-11-19"]
NAMES_2 = ["Average", "2004-11-07", "2004-11-07*", "2006-05-06", "2006-05-06*",
           "2009-03-25", "2011-04-04", "2011-04-19", "2011-04-26"]
NAMES_3 = ["Average", "2011-03-21", "2011-03-27"]
NAMES_4 = ["Average", "2003-11-01", "2003-11-04", "2006-01-26", "2007-12-02", "2008-11-17", "2010-04-02"]
COLORS_1 = [RED, GREEN, BLUE, MAGENTA]
COLORS_2 = [RED, GREEN, BLUE, MAGENTA, CYAN, YELLOW, BLACK, ORANGE, GRAY]
COLORS_3 = [RED, GREEN, BLUE]
COLORS_4 = [RED, GREEN, BLUE, MAGENTA, CYAN, YELLOW, BLACK]
EVENTS = ["2003-10-31", "2005-08-16", "2005-11-14", "2005-12-02"]
WAVES = ["P wave", "S wave", "SH wave"]
X_LABELS = [0.01, 0.1, 1, 10]
MINOR_MULT = [2, 3, 4, 5, 6, 7, 8, 9]

ROWS = [
    dict(names=NAMES_1, colors=COLORS_1, ydom=[4.9, 19500], h=335, ty=44, brune=brune1,
         series=[[p1_avg, p1_g, p1_b, p1_m], [p2_avg, p2_g, p2_b, p2_m], [p3_avg, p3_g, p3_b, p3_m]],
         box=(18, 153, 234, 312), ys=[242, 257, 271, 286, 300],
         cols=[(96, 101, 140, NAMES_1 + ["Brune"])]),
    dict(names=NAMES_2, colors=COLORS_2, ydom=[18, 65000], h=333, ty=45, brune=brune2,
         series=[[p4_avg, p4_g, p4_b, p4_m, p4_c, p4_y, p4_k, p4_o, p4_gr],
                 [p5_avg, p5_g, p5_b, p5_m, p5_c, p5_y, p5_k, p5_o, p5_gr],
                 [p6_avg, p6_g, p6_b, p6_m, p6_c, p6_y, p6_k, p6_o, p6_gr]],
         box=(10, 268, 244, 322), ys=[252, 267, 282, 297, 312],
         cols=[(97, 101, 140, NAMES_2[:5]), (216, 220, 259, NAMES_2[5:] + ["Brune"])]),
    dict(names=NAMES_3, colors=COLORS_3, ydom=[31.6, 29500], h=331, ty=36, brune=brune3,
         series=[[p7_avg, p7_g, p7_b], [p8_avg, p8_g, p8_b], [p9_avg, p9_g, p9_b]],
         box=(23, 159, 236, 308), ys=[247, 262, 278, 294],
         cols=[(103, 109, 149, NAMES_3 + ["Brune"])]),
    dict(names=NAMES_4, colors=COLORS_4, ydom=[7.35, 19950], h=332, ty=45, brune=brune4,
         series=[[p10_avg, p10_g, p10_b, p10_m, p10_c, p10_y, p10_k],
                 [p11_avg, p11_g, p11_b, p11_m, p11_c, p11_y, p11_k],
                 [p12_avg, p12_g, p12_b, p12_m, p12_c, p12_y, p12_k]],
         box=(24, 159, 206, 329), ys=[218, 232, 247, 262, 277, 291, 306, 320],
         cols=[(101, 106, 145, NAMES_4 + ["Brune"])]),
]

PW = 327
ONE = pd.DataFrame({"z": [0]})
XLAB = "datum.value < 0.05 ? '0.01' : datum.value < 0.5 ? '0.1' : datum.value < 5 ? '1' : '10'"
YLAB = ("datum.value < 50 ? '10\u00b9' : datum.value < 500 ? '10\u00b2' : "
        "datum.value < 5000 ? '10\u00b3' : '10\u2074'")


def make_panel(r, c):
    cfg = ROWS[r]
    W, H = PW, cfg["h"]
    lo, hi = cfg["ydom"]
    title = EVENTS[r] + "_" + WAVES[c]
    names, colors, series = cfg["names"], cfg["colors"], cfg["series"][c]
    xs = alt.Scale(type="log", domain=[0.01, 10])
    ys = alt.Scale(type="log", domain=[lo, hi])

    recs = []
    order = list(range(1, len(names))) + [0]
    for k in order:
        vals = series[k]
        if len(vals) != len(LOGF):
            raise ValueError(f"{title} series {names[k]} has {len(vals)} values")
        for lf, v in zip(LOGF, vals):
            if v is not None:
                recs.append({"f": 10 ** lf, "a": 10 ** v, "s": names[k], "col": colors[k]})
    brec = [{"f": 10 ** lf, "a": 10 ** v} for lf, v in zip(LOGF, cfg["brune"]) if v is not None]

    decades = [10.0 ** d for d in range(0, 6) if lo <= 10.0 ** d <= hi]
    xaxis = alt.Axis(values=X_LABELS, labelExpr=XLAB, title="Frequency (Hz)",
                     labelPadding=3, titlePadding=0, labelFlush=False, labelOverlap=False)
    yaxis = alt.Axis(values=decades, labelExpr=YLAB, title="Amplitude" if c == 0 else None,
                     labelPadding=4, minExtent=24, maxExtent=24, titlePadding=3,
                     labelOverlap=False, labelFontSize=15)
    X = alt.X("f:Q", scale=xs, axis=xaxis)
    Y = alt.Y("a:Q", scale=ys, axis=yaxis)

    lines = alt.Chart(pd.DataFrame(recs)).mark_line(strokeWidth=1.2, clip=True).encode(
        x=X, y=Y, color=alt.Color("col:N", scale=None), detail="s:N")
    brune = alt.Chart(pd.DataFrame(brec)).mark_line(
        strokeDash=[10, 7], strokeWidth=2.2, color="black", clip=True).encode(x=X, y=Y)

    # inward ticks on the four sides
    xmaj = pd.DataFrame({"f": X_LABELS})
    xmin = pd.DataFrame({"f": [m * 10.0 ** d for d in range(-2, 1) for m in MINOR_MULT]})
    ymaj = pd.DataFrame({"a": decades})
    ymin = pd.DataFrame({"a": [m * 10.0 ** d for d in range(0, 5) for m in MINOR_MULT
                               if lo <= m * 10.0 ** d <= hi]})
    ticks = []
    for df, ln, sw in [(xmaj, 9, 2), (xmin, 5, 1.5)]:
        for y0, y1 in [(0, ln), (H - ln, H)]:
            ticks.append(alt.Chart(df).mark_rule(color="black", strokeWidth=sw).encode(
                x=X, y=alt.value(y0), y2=alt.value(y1)))
    for df, ln, sw in [(ymaj, 9, 2), (ymin, 5, 1.5)]:
        for x0, x1 in [(0, ln), (W - ln, W)]:
            ticks.append(alt.Chart(df).mark_rule(color="black", strokeWidth=sw).encode(
                y=Y, x=alt.value(x0), x2=alt.value(x1)))

    # legend drawn inside the plot
    bx0, bx1, by0, by1 = cfg["box"]
    leg = [alt.Chart(ONE).mark_rect(fill="white", stroke="black", strokeWidth=2).encode(
        x=alt.value(bx0), x2=alt.value(bx1), y=alt.value(by0), y2=alt.value(by1))]
    cmap = dict(zip(names, colors))
    for tx, l1, l2, items in cfg["cols"]:
        for i, name in enumerate(items):
            py = cfg["ys"][i]
            leg.append(alt.Chart(ONE).mark_text(
                text=name, align="right", baseline="middle", font=FONT, fontSize=15,
                color="black").encode(x=alt.value(tx), y=alt.value(py)))
            if name == "Brune":
                leg.append(alt.Chart(ONE).mark_rule(
                    strokeDash=[10, 7], strokeWidth=2.2, color="black").encode(
                    x=alt.value(l1), x2=alt.value(l2 - 4), y=alt.value(py)))
            else:
                leg.append(alt.Chart(ONE).mark_rule(strokeWidth=1.4, color=cmap[name]).encode(
                    x=alt.value(l1), x2=alt.value(l2), y=alt.value(py)))

    ttl = alt.Chart(ONE).mark_text(text=title, align="right", baseline="middle",
                                   font=FONT, fontSize=20, color="black").encode(
        x=alt.value(W - 14), y=alt.value(cfg["ty"]))

    return alt.layer(lines, brune, *ticks, *leg, ttl).properties(width=W, height=H)


panels = [make_panel(r, c) for r in range(4) for c in range(3)]
chart = alt.concat(
    *panels, columns=3, spacing={"row": 46, "column": 30}, bounds="flush", align="each"
).properties(
    padding={"left": 5, "top": 5, "right": 2, "bottom": 2},
    background="white",
).configure_view(
    stroke="black", strokeWidth=3
).configure_axis(
    labelFont=FONT, labelFontSize=16, labelColor="black",
    titleFont=FONT, titleFontSize=20, titleFontWeight="normal", titleColor="black",
    grid=True, gridDash=[2, 3], gridColor="#555555", gridWidth=0.8,
    ticks=False, domain=False,
)

chart.save("out.html", embed_options={"renderer": "svg", "actions": False})
